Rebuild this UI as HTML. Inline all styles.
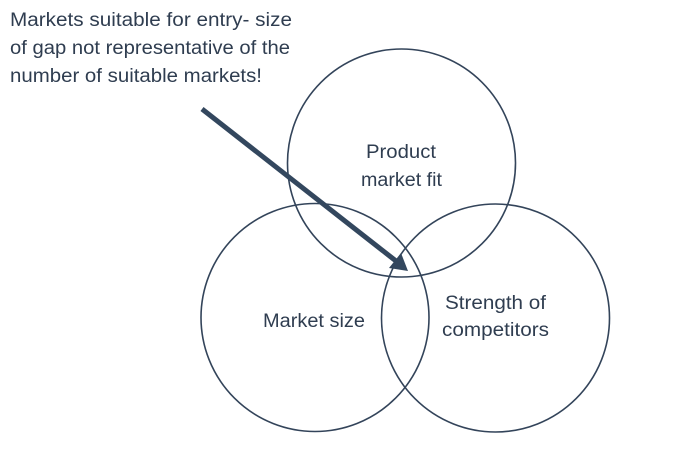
<!DOCTYPE html>
<html><head><style>
body{margin:0;width:685px;height:458px;background:#fff;overflow:hidden}
svg{display:block}
text{font-family:"Liberation Sans",sans-serif;fill:#2f3d50}
</style></head><body>
<svg width="685" height="458" viewBox="0 0 685 458">
<g fill="none" stroke="#33445a" stroke-width="1.6">
<circle cx="401.5" cy="163" r="114"/>
<circle cx="315" cy="317.5" r="114"/>
<circle cx="495.5" cy="318" r="114"/>
</g>
<line x1="202" y1="109" x2="396" y2="261" stroke="#33475e" stroke-width="5"/>
<polygon points="408,271 389,268 401,253" fill="#33475e"/>
<g font-size="19">
<text x="10" y="26" textLength="282" lengthAdjust="spacingAndGlyphs">Markets suitable for entry- size</text>
<text x="10" y="54" textLength="280" lengthAdjust="spacingAndGlyphs">of gap not representative of the</text>
<text x="10" y="82" textLength="252" lengthAdjust="spacingAndGlyphs">number of suitable markets!</text>
<text x="366" y="158" textLength="70" lengthAdjust="spacingAndGlyphs">Product</text>
<text x="361" y="186" textLength="81" lengthAdjust="spacingAndGlyphs">market fit</text>
<text x="263" y="327" textLength="102" lengthAdjust="spacingAndGlyphs">Market size</text>
<text x="445" y="309" textLength="101" lengthAdjust="spacingAndGlyphs">Strength of</text>
<text x="442" y="336" textLength="107" lengthAdjust="spacingAndGlyphs">competitors</text>
</g>
</svg>
</body></html>
